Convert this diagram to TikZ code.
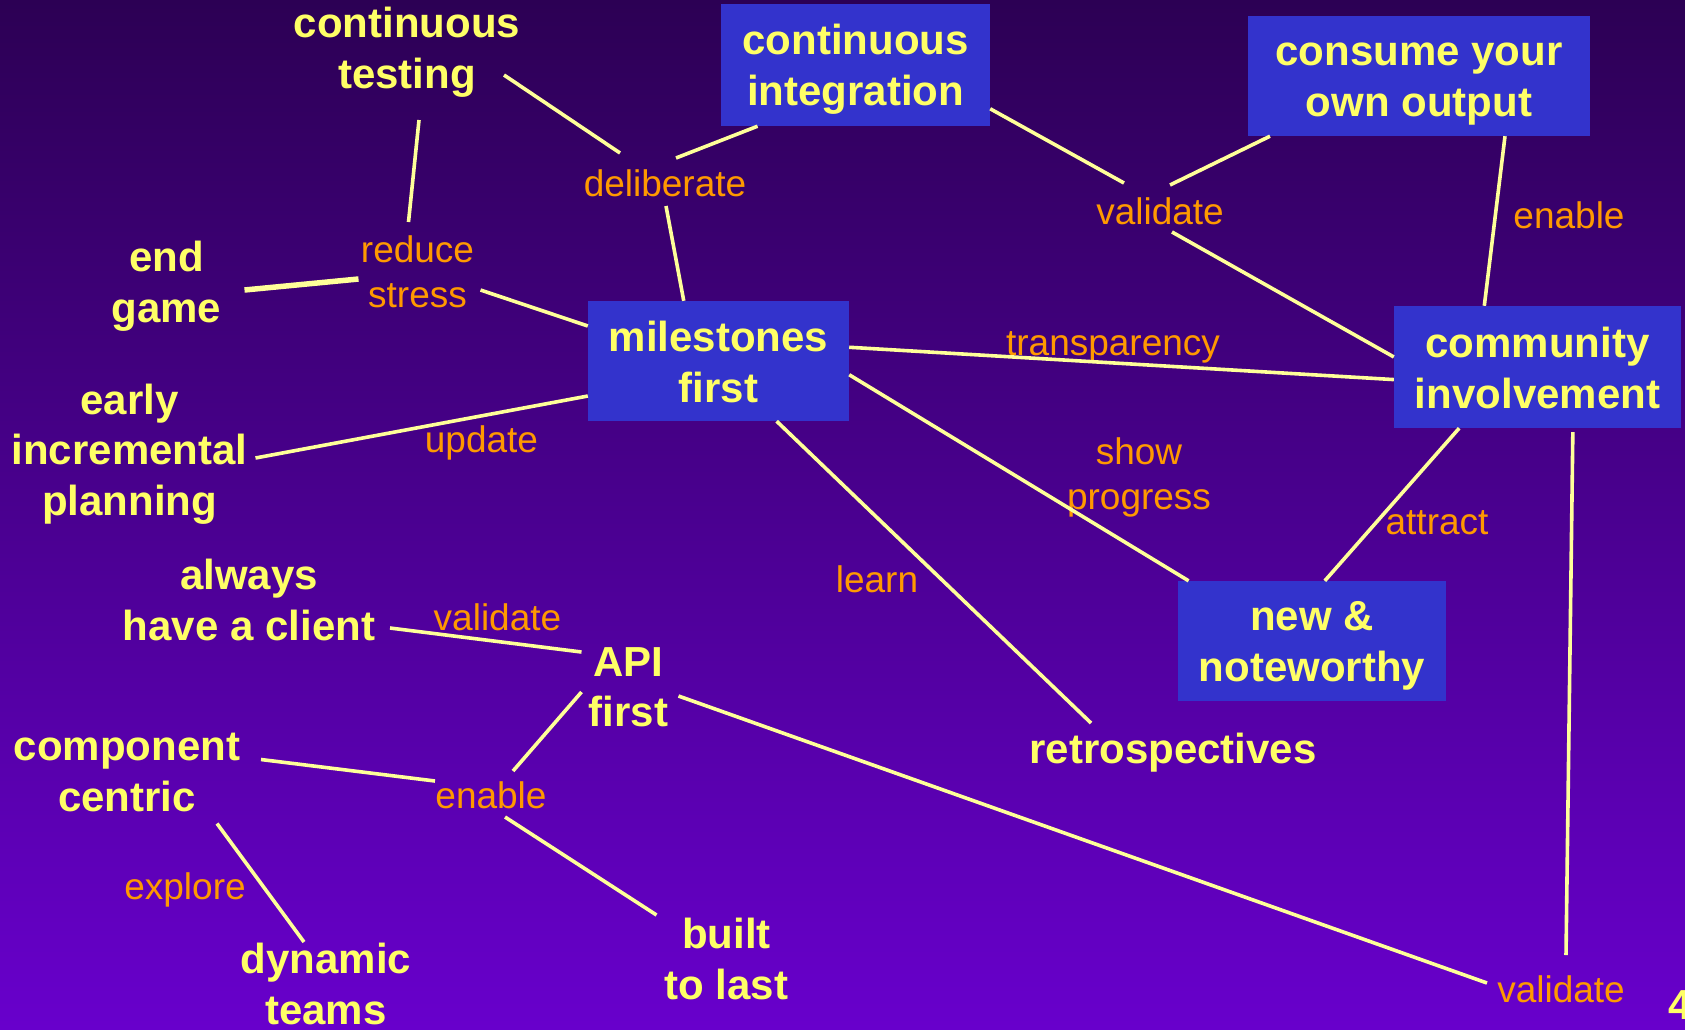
\documentclass[tikz,border=0pt]{standalone}
\usepackage{fontspec}
\setmainfont{Liberation Sans}
\usetikzlibrary{calc}
\definecolor{bgtop}{RGB}{44,0,84}
\definecolor{bgbot}{RGB}{104,0,204}
\definecolor{boxblue}{RGB}{51,51,204}
\definecolor{tyellow}{RGB}{255,255,102}
\definecolor{lyellow}{RGB}{255,255,153}
\definecolor{lorange}{RGB}{255,153,0}
\tikzset{
  concept/.style={text=tyellow, font=\bfseries\fontsize{42}{50.5}\selectfont, align=center, inner sep=0pt},
  conceptbox/.style={fill=boxblue, inner sep=0pt},
  rel/.style={text=lorange, font=\fontsize{37}{45}\selectfont, align=center, inner sep=0pt},
  link/.style={draw=lyellow, line width=3.6pt},
  thicklink/.style={draw=lyellow, line width=5.5pt}
}
\begin{document}
\begin{tikzpicture}[x=1pt,y=-1pt]
\useasboundingbox (0,0) rectangle (1685,1029);
\shade[top color=bgtop, bottom color=bgbot] (0,0) rectangle (1685,1029);

% boxes
\node[conceptbox, minimum width=269pt, minimum height=122pt,
  label={[concept,yshift=-4pt]center:continuous\\integration}] (ci) at (855.5,65) {};
\node[conceptbox, minimum width=342pt, minimum height=120pt,
  label={[concept,yshift=-8pt]center:consume your\\own output}] (cyo) at (1419,76) {};
\node[conceptbox, minimum width=261pt, minimum height=120pt,
  label={[concept,yshift=-1pt]center:milestones\\first}] (ms) at (718.5,361) {};
\node[conceptbox, minimum width=287pt, minimum height=122pt,
  label={[concept,yshift=-1pt]center:community\\involvement}] (cinv) at (1537.5,367) {};
\node[conceptbox, minimum width=268pt, minimum height=120pt,
  label={[concept,yshift=-5pt]center:new \&\\noteworthy}] (nn) at (1312,641) {};

% plain concepts
\node[concept] (ct) at (407,52) {continuous\\testing};
\node[concept] (eg) at (166.5,286) {end\\game};
\node[concept] (eip) at (129.5,454) {early\\incremental\\planning};
\node[concept] (ahc) at (249,600) {always\\have a client};
\node[concept] (api) at (628.5,687) {API\\first};
\node[concept] (retro) at (1173,753) {retrospectives};
\node[concept] (cc) at (127,772.5) {component\\centric};
\node[concept] (dt) at (326,984) {dynamic\\teams};
\node[concept] (btl) at (726.5,959) {built\\to last};
\node[concept] (four) at (1680,1005) {4};

% relation labels
\node[rel] (delib) at (665,183) {deliberate};
\node[rel] (rs) at (417.5,272) {reduce\\stress};
\node[rel] (val1) at (1160,211) {validate};
\node[rel] (en1) at (1569,215) {enable};
\node[rel] (tr) at (1113,347) {transparency};
\node[rel] (upd) at (481.5,443) {update};
\node[rel] (sp) at (1139,477) {show\\progress};
\node[rel] (att) at (1437,523) {attract};
\node[rel] (lrn) at (877,579) {learn};
\node[rel] (val2) at (497.5,617) {validate};
\node[rel] (en2) at (491,795) {enable};
\node[rel] (expl) at (185,890) {explore};
\node[rel] (val3) at (1561,989) {validate};

% connectors
\draw[link] ($(ct)+(97,23)$) -- ($(delib)+(-45,-30)$);
\draw[link] ($(delib)+(11,-25)$) -- (ci.212);
\draw[link] ($(delib)+(1,23)$) -- (ms.120.6);
\draw[link] ($(ct)+(12,68)$) -- ($(rs)+(-9,-50)$);
\draw[thicklink] ($(eg)+(78,4)$) -- ($(rs)+(-59,7)$);
\draw[link] ($(rs)+(63,18)$) -- (ms.165);
\draw[link] (ci.342) -- ($(val1)+(-36,-28)$);
\draw[link] ($(val1)+(10,-26)$) -- (cyo.202.5);
\draw[link] ($(val1)+(12,21)$) -- (cinv.176);
\draw[link] (cyo.325.7) -- (cinv.131.3);
\draw[link] (ms.6.1) -- (cinv.185.6);
\draw[link] ($(eip)+(126,4)$) -- (ms.195.8);
\draw[link] (ms.354.7) -- (nn.154.2);
\draw[link] (ms.314.3) -- ($(retro)+(-82,-30)$);
\draw[link] (cinv.218.6) -- (nn.78.9);
\draw[link] ($(cinv.300.2)+(0,4)$) -- ($(val3)+(5,-34)$);
\draw[link] ($(ahc)+(141,28)$) -- ($(api)+(-47,-35)$);
\draw[link] ($(api)+(50,9)$) -- ($(val3)+(-74,-6)$);
\draw[link] ($(api)+(-47,5)$) -- ($(en2)+(22,-24)$);
\draw[link] ($(cc)+(134,-13)$) -- ($(en2)+(-56,-14)$);
\draw[link] ($(en2)+(14,22)$) -- ($(btl)+(-70,-44)$);
\draw[link] ($(cc)+(90,51)$) -- ($(dt)+(-22,-42)$);
\end{tikzpicture}
\end{document}
